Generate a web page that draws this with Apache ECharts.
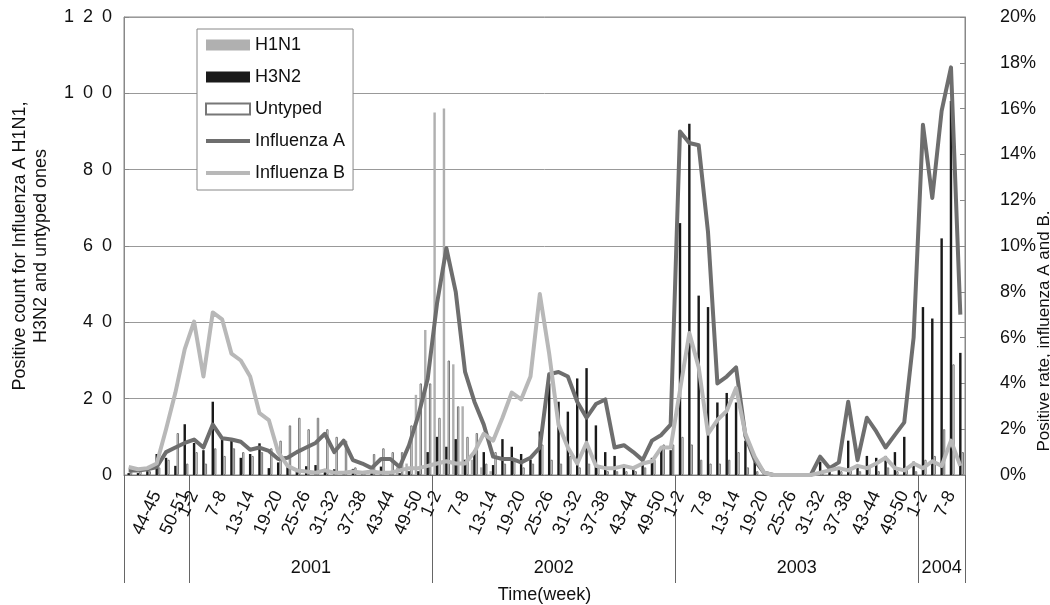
<!DOCTYPE html>
<html>
<head>
<meta charset="utf-8">
<title>Influenza positives 2000-2004</title>
<script src="https://cdn.jsdelivr.net/npm/echarts@6.0.0/dist/echarts.min.js"></script>
<style>
  html, body { margin: 0; padding: 0; background: #fff; }
  #chart { width: 1050px; height: 605px; }
</style>
</head>
<body>
<div id="chart"></div>
<script>
// two-week periods, end of 2000 to early 2004
const weeks2000 = ['38-39', '40-41', '42-43', '44-45', '46-47', '48-49', '50-51'];
const weeksOfYear = ['1-2', '3-4', '5-6', '7-8', '9-10', '11-12', '13-14', '15-16', '17-18', '19-20',
  '21-22', '23-24', '25-26', '27-28', '29-30', '31-32', '33-34', '35-36', '37-38', '39-40',
  '41-42', '43-44', '45-46', '47-48', '49-50', '51-52'];
const weeks2004 = ['1-2', '3-4', '5-6', '7-8', '9-10'];
const weeks = weeks2000.concat(weeksOfYear, weeksOfYear, weeksOfYear, weeks2004);

// only these period labels are printed under the axis
const labelledWeeks = ['44-45', '50-51', '1-2', '7-8', '13-14', '19-20', '25-26', '31-32', '37-38', '43-44', '49-50'];

const years = ['2001', '2002', '2003', '2004'];
const yearBounds = [7, 33, 59, 85, 90]; // category index where each year starts (last = end)

// positive counts (left axis)
const h1n1 = [0, 0, 0, 0, 0, 0, 0, 0, 0, 0,
  0, 0, 0, 0, 0, 0, 0, 0, 0, 0,
  0, 0, 0, 0, 0, 0, 0, 0, 0, 2,
  3, 21, 38, 95, 96, 29, 18, 4, 2, 1,
  0, 0, 0, 0, 0, 0, 0, 0, 0, 0,
  0, 0, 0, 0, 0, 0, 0, 0, 0, 0,
  0, 0, 0, 0, 0, 0, 0, 0, 0, 0,
  0, 0, 0, 0, 0, 0, 0, 0, 0, 0,
  0, 0, 0, 0, 0, 0, 0, 0, 0, 0];
const h3n2 = [0.5, 0.5, 1, 5.5, 4.5, 2.4, 13.3, 8.4, 6.5, 19.2,
  9.3, 9, 4.5, 5.5, 8.3, 1.8, 3.3, 2.2, 1.6, 2.3,
  2.6, 1.6, 1.5, 1, 1.6, 0.5, 0.5, 2.2, 0.5, 0.5,
  1, 1, 6, 10, 7.4, 9.4, 4, 6.5, 6, 2.6,
  9.4, 7.4, 5.5, 4, 11.4, 24, 19.2, 16.6, 25.3, 28,
  13, 6, 5, 2.5, 2, 3, 4.5, 7, 6.5, 66,
  92, 47, 44, 19, 21.5, 19, 9, 4.5, 0.5, 0,
  0, 0, 0, 0, 3.5, 1.5, 1.5, 9, 2.5, 5,
  4.5, 5, 6, 10, 3.5, 44, 41, 62, 98, 32];
const untyped = [1, 1, 1, 2, 4, 11, 3, 6, 3, 7,
  5, 7, 6, 5, 6, 7, 9, 13, 15, 12,
  15, 12, 10, 9, 2, 1, 5.5, 7, 6, 6,
  13, 24, 24, 15, 30, 18, 10, 11, 3, 6,
  3, 4, 2, 3, 8, 4, 3, 5, 2, 3,
  2, 1, 1, 1, 1, 2, 4, 8, 8, 10,
  8, 4, 3, 3, 4, 6, 2, 1, 0, 0,
  0, 0, 0, 0, 1, 0, 1, 2, 1, 2,
  1, 2, 1, 2, 1, 4, 5, 12, 29, 6];

// positive rates in % (right axis)
const rateA = [0.2, 0.2, 0.25, 0.35, 1.0, 1.2, 1.4, 1.55, 1.2, 2.2,
  1.6, 1.55, 1.45, 1.1, 1.2, 1.05, 0.7, 0.75, 1.0, 1.2,
  1.4, 1.8, 1.0, 1.5, 0.65, 0.5, 0.3, 0.7, 0.7, 0.35,
  1.3, 2.6, 4.2, 7.5, 9.9, 8.0, 4.5, 3.2, 2.2, 0.8,
  0.7, 0.7, 0.55, 0.75, 1.2, 4.4, 4.5, 4.3, 3.2, 2.5,
  3.1, 3.3, 1.2, 1.3, 1.0, 0.65, 1.5, 1.75, 2.2, 15.0,
  14.5, 14.4, 10.6, 4.0, 4.3, 4.7, 1.7, 0.65, 0.1, 0,
  0, 0, 0, 0, 0.8, 0.3, 0.55, 3.2, 0.65, 2.5,
  1.9, 1.2, 1.75, 2.3, 6.0, 15.3, 12.1, 15.9, 17.8, 7.0];
const rateB = [0.35, 0.25, 0.3, 0.5, 2.0, 3.6, 5.5, 6.7, 4.3, 7.1,
  6.8, 5.3, 5.0, 4.3, 2.7, 2.4, 1.0, 0.4, 0.2, 0.15,
  0.1, 0.2, 0.1, 0.1, 0.15, 0.1, 0.15, 0.1, 0.1, 0.2,
  0.3, 0.3, 0.4, 0.5, 0.6, 0.5, 0.5, 1.0, 1.8, 1.5,
  2.5, 3.6, 3.3, 4.3, 7.9, 5.3, 2.2, 1.2, 0.5, 1.4,
  0.4, 0.3, 0.3, 0.4, 0.3, 0.5, 0.6, 1.2, 1.2, 3.7,
  6.2, 4.7, 1.8, 2.4, 2.8, 3.8, 1.8, 0.8, 0.1, 0,
  0, 0, 0, 0, 0.1, 0.2, 0.3, 0.2, 0.4, 0.3,
  0.5, 0.75, 0.3, 0.2, 0.5, 0.3, 0.6, 0.4, 1.5, 0.4];

const font = "'Liberation Sans', Arial, sans-serif";
// plain thick stroke for the legend entries of the two rate lines
const lineIcon = 'path://M0,0 L44,0 L44,4 L0,4 Z';

let chart = echarts.init(document.getElementById('chart'));

// year label sits in the middle of its span
let yearMids = years.map((y, k) => (yearBounds[k] + yearBounds[k + 1]) / 2);

let option = {
  animation: false,
  backgroundColor: '#fff',
  textStyle: { fontFamily: font, color: '#111' },
  grid: {
    left: 124, right: 85, top: 17, bottom: 130,
    outerBoundsMode: 'none',
    containLabel: false,
    show: true, borderColor: '#888', borderWidth: 1
  },
  legend: {
    orient: 'vertical',
    left: 197, top: 29,
    padding: [7, 8, 8, 8],
    backgroundColor: '#fff',
    borderColor: '#888',
    borderWidth: 1,
    itemWidth: 44,
    itemHeight: 11,
    itemGap: 14,
    textStyle: { fontSize: 18, color: '#111', fontFamily: font },
    data: [
      { name: 'H1N1', icon: 'rect' },
      { name: 'H3N2', icon: 'rect' },
      { name: 'Untyped', icon: 'rect' },
      { name: 'Influenza A', icon: lineIcon },
      { name: 'Influenza B', icon: lineIcon }
    ]
  },
  xAxis: [
    {
      type: 'category',
      data: weeks,
      boundaryGap: true,
      name: 'Time(week)',
      nameLocation: 'middle',
      nameGap: 111,
      nameMoveOverlap: false,
      nameTextStyle: { fontSize: 18, color: '#111' },
      axisLine: { lineStyle: { color: '#777' } },
      axisTick: {
        show: true,
        length: 108,
        interval: function (idx) {
          return idx === 0 || yearBounds.indexOf(idx) >= 0;
        },
        lineStyle: { color: '#666' }
      },
      axisLabel: {
        rotate: 65,
        margin: 17,
        fontSize: 18,
        color: '#111',
        interval: function (idx, value) {
          return labelledWeeks.indexOf(value) >= 0;
        }
      }
    },
    {
      // hidden value scale, only used to centre the year names
      type: 'value',
      position: 'bottom',
      offset: 0,
      min: 0,
      max: 90,
      interval: 0.5,
      axisLine: { show: false },
      axisTick: { show: false },
      splitLine: { show: false },
      axisLabel: {
        margin: 84,
        fontSize: 18,
        color: '#111',
        showMinLabel: true,
        showMaxLabel: true,
        formatter: function (v) {
          let k = yearMids.indexOf(v);
          return k >= 0 ? years[k] : '';
        }
      }
    }
  ],
  yAxis: [
    {
      type: 'value',
      min: 0,
      max: 120,
      interval: 20,
      name: 'Positive count for Influenza A H1N1,\nH3N2 and untyped ones',
      nameLocation: 'middle',
      nameGap: 72,
      nameMoveOverlap: false,
      nameTextStyle: { fontSize: 18, lineHeight: 21, color: '#111' },
      axisLine: { show: true, lineStyle: { color: '#888' } },
      axisTick: { show: true, inside: true, length: 5, lineStyle: { color: '#888' } },
      axisLabel: {
        fontSize: 18,
        color: '#111',
        margin: 12,
        formatter: function (v) {
          return String(v).split('').join('\u2002');
        }
      },
      splitLine: { lineStyle: { color: '#999' } }
    },
    {
      type: 'value',
      position: 'right',
      min: 0,
      max: 20,
      interval: 2,
      name: 'Positive rate, influenza A and B.',
      nameLocation: 'middle',
      nameGap: 71,
      nameMoveOverlap: false,
      nameTextStyle: { fontSize: 17, color: '#111', padding: [0, 170, 0, 0] },
      axisLine: { show: true, lineStyle: { color: '#888' } },
      axisTick: { show: true, inside: true, length: 5, lineStyle: { color: '#888' } },
      axisLabel: { fontSize: 18, color: '#111', margin: 35, formatter: '{value}%' },
      splitLine: { show: false }
    }
  ],
  series: [
    {
      name: 'H1N1',
      type: 'bar',
      data: h1n1,
      barGap: '0%',
      barCategoryGap: '22%',
      itemStyle: { color: '#b0b0b0' }
    },
    {
      name: 'H3N2',
      type: 'bar',
      data: h3n2,
      itemStyle: { color: '#1a1a1a' }
    },
    {
      name: 'Untyped',
      type: 'bar',
      data: untyped,
      itemStyle: { color: '#fff', borderColor: '#777', borderWidth: 1 }
    },
    {
      name: 'Influenza A',
      type: 'line',
      yAxisIndex: 1,
      data: rateA,
      symbol: 'none',
      lineStyle: { color: '#6e6e6e', width: 4, join: 'round' },
      itemStyle: { color: '#6e6e6e' }
    },
    {
      name: 'Influenza B',
      type: 'line',
      yAxisIndex: 1,
      data: rateB,
      symbol: 'none',
      lineStyle: { color: '#b8b8b8', width: 4, join: 'round' },
      itemStyle: { color: '#b8b8b8' }
    }
  ]
};

chart.setOption(option);
</script>
</body>
</html>
